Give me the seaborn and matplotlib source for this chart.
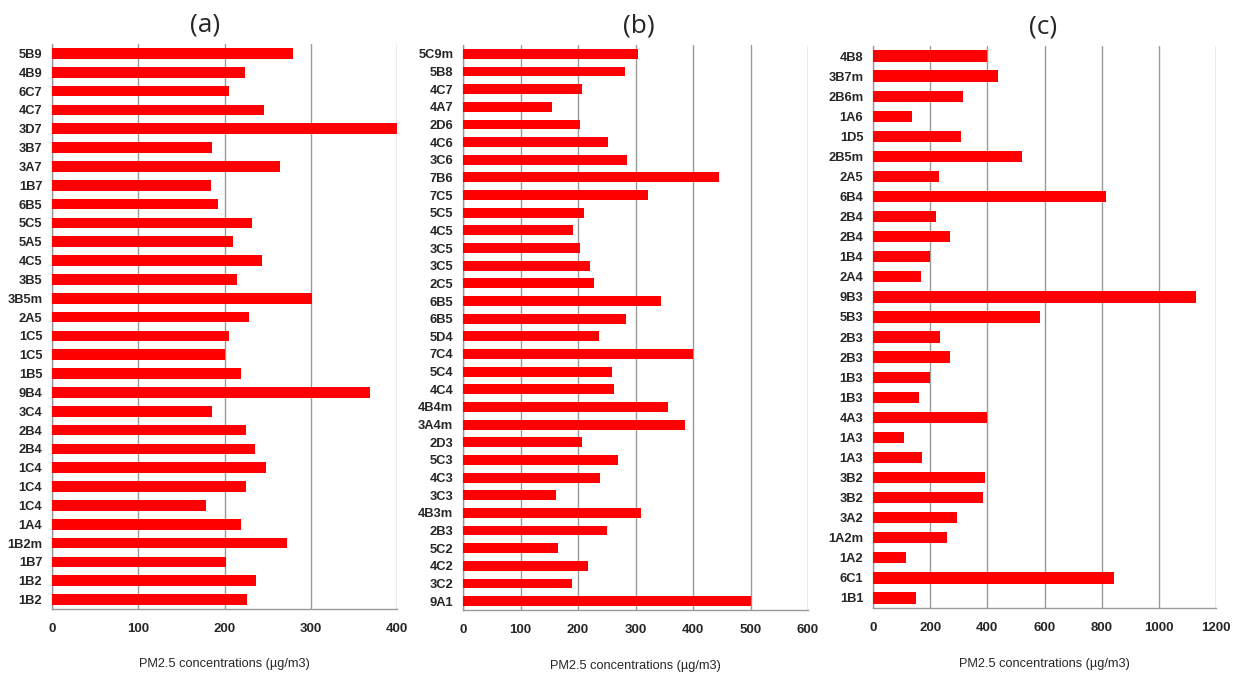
import matplotlib
matplotlib.use("Agg")
import matplotlib.pyplot as plt
import numpy as np
import pandas as pd
import seaborn as sns

# panel (a)
labels_a = ["5B9", "4B9", "6C7", "4C7", "3D7", "3B7", "3A7", "1B7", "6B5", "5C5",
            "5A5", "4C5", "3B5", "3B5m", "2A5", "1C5", "1C5", "1B5", "9B4", "3C4",
            "2B4", "2B4", "1C4", "1C4", "1C4", "1A4", "1B2m", "1B7", "1B2", "1B2"]
values_a = [279, 224, 205, 246, 400, 185, 264, 184, 192, 232,
            210, 244, 214, 302, 228, 205, 201, 219, 369, 186,
            225, 235, 248, 225, 178, 219, 272, 202, 237, 226]

# panel (b)
labels_b = ["5C9m", "5B8", "4C7", "4A7", "2D6", "4C6", "3C6", "7B6", "7C5", "5C5",
            "4C5", "3C5", "3C5", "2C5", "6B5", "6B5", "5D4", "7C4", "5C4", "4C4",
            "4B4m", "3A4m", "2D3", "5C3", "4C3", "3C3", "4B3m", "2B3", "5C2", "4C2",
            "3C2", "9A1"]
values_b = [305, 281, 207, 155, 204, 253, 286, 445, 321, 210,
            191, 204, 221, 228, 345, 283, 236, 400, 259, 263,
            357, 386, 207, 270, 238, 162, 309, 250, 165, 218,
            190, 500]

# panel (c)
labels_c = ["4B8", "3B7m", "2B6m", "1A6", "1D5", "2B5m", "2A5", "6B4", "2B4", "2B4",
            "1B4", "2A4", "9B3", "5B3", "2B3", "2B3", "1B3", "1B3", "4A3", "1A3",
            "1A3", "3B2", "3B2", "3A2", "1A2m", "1A2", "6C1", "1B1"]
values_c = [399, 439, 314, 138, 308, 523, 231, 815, 221, 271,
            200, 169, 1129, 586, 233, 268, 201, 160, 400, 107,
            170, 393, 384, 293, 259, 117, 844, 151]

panels = [
    ("(a)", labels_a, values_a, [0, 100, 200, 300, 400], 400, [52, 397, 44, 609], 0.443),
    ("(b)", labels_b, values_b, [0, 100, 200, 300, 400, 500, 600], 600, [463, 808, 45, 610], 0.51),
    ("(c)", labels_c, values_c, [0, 200, 400, 600, 800, 1000, 1200], 1200, [873, 1216, 46, 608], 0.495),
]

W, H = 1239, 677
sns.set_style("white")
plt.rcParams["font.family"] = ["Liberation Sans", "DejaVu Sans"]
fig = plt.figure(figsize=(W / 100, H / 100), dpi=100)
grey = "#9a9a9a"

for title, labels, values, xticks, xmax, (x0, x1, y0, y1), tx in panels:
    ax = fig.add_axes([x0 / W, 1 - y1 / H, (x1 - x0) / W, (y1 - y0) / H])
    df = pd.DataFrame({"key": [f"{i}_{l}" for i, l in enumerate(labels)],
                       "value": values})
    sns.barplot(data=df, x="value", y="key", orient="h", color="#ff0000",
                saturation=1, width=0.56, linewidth=0, ax=ax, zorder=3)
    n = len(labels)
    ax.set_ylim(n - 0.5, -0.5)
    ax.set_xlim(0, xmax)
    ax.set_xticks(xticks)
    ax.set_xticklabels([str(t) for t in xticks], fontsize=9.5, fontweight="bold")
    ax.set_yticks(range(n))
    ax.set_yticklabels(labels, fontsize=9.3, fontweight="bold")
    ax.set_yticks(np.arange(-0.5, n, 1.0), minor=True)
    ax.tick_params(axis="y", which="major", length=0, pad=7)
    ax.tick_params(axis="y", which="minor", length=4, color=grey, width=1)
    ax.tick_params(axis="x", which="major", length=4, color=grey, width=1, pad=6)
    ax.xaxis.grid(True, color=grey, linewidth=1, zorder=0)
    ax.set_axisbelow(True)
    for s in ["top", "right"]:
        ax.spines[s].set_visible(False)
    for s in ["left", "bottom"]:
        ax.spines[s].set_color(grey)
        ax.spines[s].set_linewidth(1)
    ax.set_ylabel("")
    ax.set_xlabel("PM2.5 concentrations (µg/m3)", fontsize=9.2, labelpad=17)
    ax.set_title(title, x=tx, fontsize=19, pad=9, family=["Open Sans", "DejaVu Sans"])

fig.savefig("out.png", dpi=100)
